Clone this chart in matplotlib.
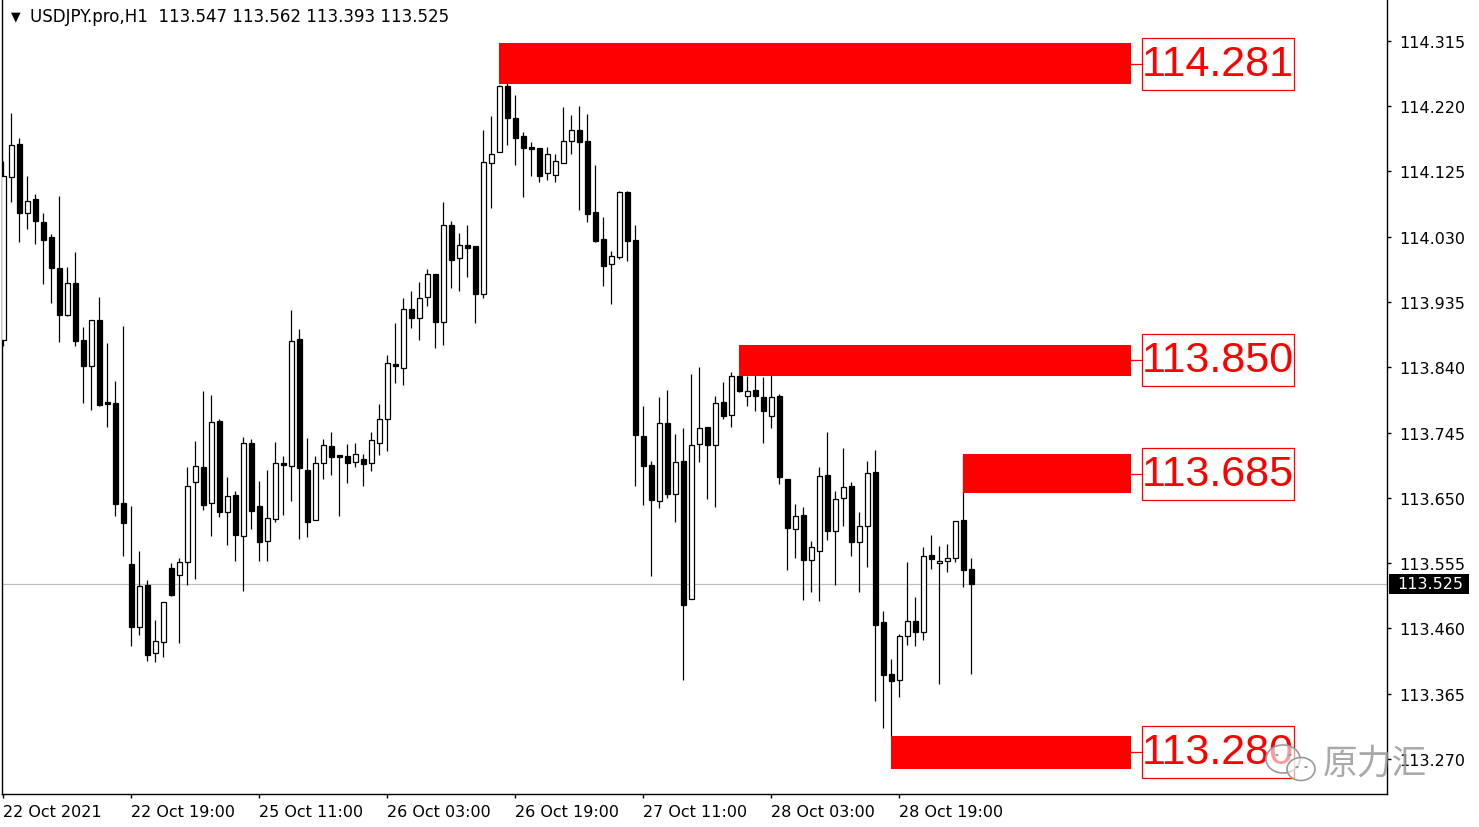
import matplotlib
matplotlib.use("Agg")
import matplotlib.pyplot as plt
from matplotlib.patches import Rectangle, Ellipse, Circle

# ---------------- data (USDJPY H1) ----------------
opens = [113.880, 114.117, 114.165, 114.064, 114.085, 114.051, 114.029, 113.984, 113.916, 113.963,
         113.880, 113.842, 113.909, 113.789, 113.788, 113.642, 113.554, 113.462, 113.523, 113.424,
         113.440, 113.548, 113.538, 113.557, 113.673, 113.695, 113.642, 113.762, 113.629, 113.654,
         113.594, 113.730, 113.638, 113.587, 113.619, 113.700, 113.696, 113.881, 113.690, 113.618,
         113.701, 113.725, 113.712, 113.711, 113.702, 113.706, 113.701, 113.730, 113.765, 113.844,
         113.839, 113.925, 113.912, 113.942, 113.976, 113.906, 114.047, 113.999, 114.018, 114.016,
         113.947, 114.137, 114.153, 114.249, 114.203, 114.176, 114.160, 114.159, 114.123, 114.120,
         114.137, 114.169, 114.185, 114.169, 114.066, 114.027, 113.990, 114.000, 114.095, 114.025,
         113.740, 113.698, 113.645, 113.759, 113.656, 113.704, 113.503, 113.728, 113.753, 113.727,
         113.789, 113.770, 113.827, 113.798, 113.807, 113.797, 113.769, 113.798, 113.677, 113.605,
         113.625, 113.560, 113.573, 113.683, 113.602, 113.650, 113.667, 113.586, 113.609, 113.688,
         113.469, 113.394, 113.385, 113.449, 113.471, 113.455, 113.567, 113.555, 113.558, 113.562,
         113.618, 113.547]
highs = [114.140, 114.210, 114.173, 114.118, 114.092, 114.064, 114.034, 114.089, 113.986, 114.008,
         113.899, 113.909, 113.942, 113.875, 113.820, 113.900, 113.638, 113.573, 113.530, 113.472,
         113.498, 113.555, 113.562, 113.695, 113.733, 113.805, 113.800, 113.765, 113.680, 113.660,
         113.739, 113.736, 113.674, 113.690, 113.731, 113.711, 113.923, 113.896, 113.737, 113.711,
         113.736, 113.746, 113.712, 113.728, 113.730, 113.714, 113.746, 113.787, 113.858, 113.904,
         113.941, 113.951, 113.964, 113.983, 113.976, 114.080, 114.053, 114.035, 114.047, 114.016,
         114.185, 114.205, 114.251, 114.274, 114.236, 114.182, 114.168, 114.159, 114.160, 114.150,
         114.219, 114.207, 114.220, 114.208, 114.134, 114.059, 114.009, 114.096, 114.096, 114.047,
         113.784, 113.704, 113.797, 113.807, 113.743, 113.752, 113.830, 113.840, 113.753, 113.798,
         113.818, 113.833, 113.829, 113.827, 113.852, 113.826, 113.867, 113.801, 113.677, 113.641,
         113.637, 113.587, 113.695, 113.746, 113.660, 113.722, 113.673, 113.629, 113.704, 113.720,
         113.485, 113.416, 113.452, 113.557, 113.506, 113.578, 113.596, 113.580, 113.583, 113.616,
         113.711, 113.562]
lows = [113.871, 114.080, 114.022, 114.041, 114.019, 113.961, 113.933, 113.877, 113.915, 113.871,
        113.788, 113.778, 113.784, 113.753, 113.624, 113.565, 113.434, 113.450, 113.413, 113.411,
        113.418, 113.507, 113.439, 113.523, 113.532, 113.632, 113.594, 113.622, 113.581, 113.558,
        113.514, 113.605, 113.558, 113.558, 113.615, 113.625, 113.645, 113.590, 113.593, 113.618,
        113.677, 113.683, 113.624, 113.672, 113.695, 113.667, 113.689, 113.712, 113.718, 113.817,
        113.814, 113.897, 113.880, 113.929, 113.868, 113.872, 113.955, 113.951, 113.971, 113.904,
        113.941, 114.072, 114.153, 114.163, 114.134, 114.088, 114.118, 114.109, 114.112, 114.109,
        114.137, 114.150, 114.069, 114.051, 114.022, 113.958, 113.932, 113.997, 113.995, 113.667,
        113.640, 113.536, 113.635, 113.650, 113.615, 113.385, 113.503, 113.702, 113.648, 113.637,
        113.765, 113.753, 113.804, 113.784, 113.776, 113.730, 113.752, 113.670, 113.545, 113.562,
        113.501, 113.513, 113.500, 113.589, 113.523, 113.609, 113.565, 113.513, 113.549, 113.354,
        113.315, 113.302, 113.360, 113.436, 113.434, 113.443, 113.546, 113.379, 113.542, 113.557,
        113.520, 113.393]
closes = [114.118, 114.163, 114.064, 114.082, 114.053, 114.025, 113.984, 113.916, 113.963, 113.878,
          113.842, 113.909, 113.785, 113.787, 113.641, 113.613, 113.462, 113.522, 113.421, 113.442,
          113.498, 113.509, 113.557, 113.667, 113.696, 113.640, 113.760, 113.629, 113.653, 113.596,
          113.730, 113.631, 113.586, 113.621, 113.701, 113.698, 113.878, 113.693, 113.615, 113.701,
          113.727, 113.709, 113.710, 113.701, 113.714, 113.699, 113.734, 113.765, 113.846, 113.842,
          113.925, 113.912, 113.941, 113.976, 113.906, 114.047, 113.996, 114.018, 114.013, 113.947,
          114.139, 114.150, 114.249, 114.203, 114.173, 114.159, 114.158, 114.118, 114.150, 114.140,
          114.169, 114.185, 114.168, 114.063, 114.024, 113.987, 114.002, 114.095, 114.024, 113.741,
          113.696, 113.647, 113.759, 113.656, 113.702, 113.494, 113.727, 113.752, 113.727, 113.788,
          113.769, 113.827, 113.805, 113.805, 113.798, 113.776, 113.797, 113.680, 113.606, 113.624,
          113.560, 113.578, 113.682, 113.602, 113.648, 113.666, 113.586, 113.609, 113.686, 113.465,
          113.392, 113.384, 113.449, 113.471, 113.455, 113.565, 113.561, 113.558, 113.562, 113.616,
          113.545, 113.525]

time_labels = ["22 Oct 2021", "22 Oct 19:00", "25 Oct 11:00", "26 Oct 03:00",
               "26 Oct 19:00", "27 Oct 11:00", "28 Oct 03:00", "28 Oct 19:00"]
time_label_bars = [0, 16, 32, 48, 64, 80, 96, 112]
price_ticks = [114.315, 114.220, 114.125, 114.030, 113.935, 113.840,
               113.745, 113.650, 113.555, 113.460, 113.365, 113.270]

zone_levels = [114.281, 113.850, 113.685, 113.280]
zone_labels = ["114.281", "113.850", "113.685", "113.280"]
zone_start_bars = [62, 92, 120, 111]
zone_lows = [114.252, 113.827, 113.657, 113.256]
zone_highs = [114.312, 113.872, 113.714, 113.304]

last_price = 113.525
header_symbol = "USDJPY.pro,H1"
header_ohlc = "113.547 113.562 113.393 113.525"

# ---------------- layout ----------------
W, H = 1479, 828
fig = plt.figure(figsize=(W / 100, H / 100), dpi=100)
fig.patch.set_facecolor("white")

ax_l, ax_r, ax_t, ax_b = 2, 1387, 0, 795
ax = fig.add_axes([ax_l / W, (H - ax_b) / H, (ax_r - ax_l) / W, (ax_b - ax_t) / H])
PX0, STEP = 3.3, 8.0          # pixel of bar 0 and bar spacing
ax.set_xlim((ax_l - PX0) / STEP, (ax_r - PX0) / STEP)
ppu = 687.4                   # pixels per price unit
y_top = 114.315 + 41.7 / ppu
ax.set_ylim(y_top - (ax_b - ax_t) / ppu, y_top)

ax.spines["top"].set_visible(False)
for s in ["left", "right", "bottom"]:
    ax.spines[s].set_linewidth(1.0)
    ax.spines[s].set_color("black")

# current price line
ax.axhline(last_price, color="#c0c0c0", lw=0.9, zorder=1)

# candles
bw = 0.58
for i, (o, h, l, c) in enumerate(zip(opens, highs, lows, closes)):
    ax.vlines(i, l, h, color="black", lw=0.9, zorder=2)
    bottom, top = min(o, c), max(o, c)
    if top - bottom < 0.0012:
        ax.hlines((o + c) / 2, i - bw / 2, i + bw / 2, color="black", lw=1.6, zorder=3)
        continue
    fc = "white" if c > o else "black"
    ax.add_patch(Rectangle((i - bw / 2, bottom), bw, top - bottom, facecolor=fc,
                           edgecolor="black", lw=0.9, zorder=3))

# zones + labels
zone_end = 141.0
lab_x0, lab_x1 = 142.3, 161.3
lab_half = 26 / ppu
for lvl, txt, sb, zl, zh in zip(zone_levels, zone_labels, zone_start_bars, zone_lows, zone_highs):
    ax.add_patch(Rectangle((sb, zl), zone_end - sb, zh - zl, facecolor="#ff0000",
                           edgecolor="none", zorder=4))
    ax.plot([zone_end, lab_x0], [lvl, lvl], color="#ff0000", lw=0.9, zorder=4)
    ax.add_patch(Rectangle((lab_x0, lvl - lab_half), lab_x1 - lab_x0, 2 * lab_half,
                           facecolor="white", edgecolor="#ff0000", lw=0.9, zorder=4))
    ax.text((lab_x0 + lab_x1) / 2, lvl, txt, color="#ff0000", fontsize=31,
            family="Liberation Sans", ha="center", va="center", zorder=5)

# axes ticks
ax.yaxis.tick_right()
ax.set_yticks(price_ticks)
ax.set_yticklabels([f"{p:.3f}" for p in price_ticks])
ax.tick_params(axis="y", direction="out", length=3, width=1, pad=6, labelsize=11.5)
ax.set_xticks(time_label_bars)
ax.set_xticklabels(time_labels, ha="left")
ax.tick_params(axis="x", direction="out", length=3, width=1, pad=4, labelsize=11.5)

# current price tag
y_lp = ax_b - (last_price - ax.get_ylim()[0]) * ppu
fig.patches.append(Rectangle((1389 / W, (H - y_lp - 10) / H), 80 / W, 20 / H,
                             transform=fig.transFigure, facecolor="black", edgecolor="none"))
fig.text(1397 / W, (H - y_lp) / H, f"{last_price:.3f}", color="white", fontsize=11.5,
         ha="left", va="center")

# header
fig.text(11 / W, 1 - 17 / H, "\u25BC", fontsize=9, ha="left", va="center")
fig.text(30 / W, 1 - 17 / H, header_symbol + "  " + header_ohlc, fontsize=12,
         ha="left", va="center")

# watermark (drawn above the chart, semi-transparent like the original)
wm_col = "#9a9a9a"
fig.patches.append(Ellipse((1283 / W, 1 - 760 / H), 34 / W, 28 / H, transform=fig.transFigure,
                           facecolor=(1, 1, 1, 0.6), edgecolor=wm_col, lw=1.2, zorder=10))
fig.patches.append(Ellipse((1301 / W, 1 - 770 / H), 28 / W, 23 / H, transform=fig.transFigure,
                           facecolor=(1, 1, 1, 0.6), edgecolor=wm_col, lw=1.2, zorder=10))
for (ex, ey) in [(1277, 756), (1290, 756), (1297, 768), (1306, 768)]:
    fig.patches.append(Circle((ex / W, 1 - ey / H), 1.8 / W, transform=fig.transFigure,
                              facecolor=wm_col, edgecolor="none", zorder=11))
fig.text(1323 / W, 1 - 764 / H, "原力汇", fontsize=25, color=wm_col, alpha=0.85,
         family=["Noto Sans CJK SC", "DejaVu Sans"], ha="left", va="center", zorder=11)

fig.savefig("out.png", dpi=100)
